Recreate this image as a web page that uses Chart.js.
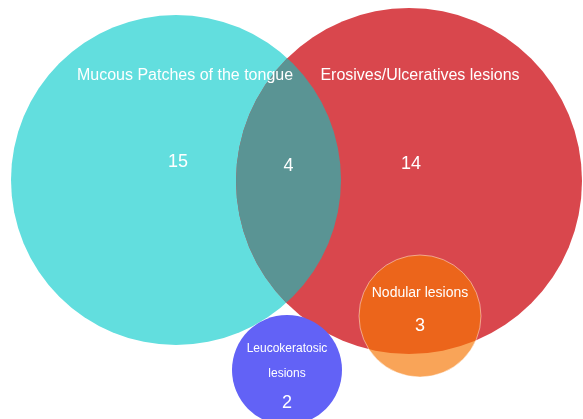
<!DOCTYPE html>
<html>
<head>
<meta charset="utf-8">
<script src="https://cdn.jsdelivr.net/npm/chart.js@4"></script>
<style>
  html, body { margin: 0; padding: 0; background: #fff; }
  #wrap { width: 583px; height: 419px; position: relative; }
</style>
</head>
<body>
<div id="wrap"><canvas id="venn"></canvas></div>
<script>
// sets of the venn diagram
const setNames = [
  'Mucous Patches of the tongue',
  'Erosives/Ulceratives lesions',
  'Nodular lesions',
  'Leucokeratosic lesions'
];
const setOnly = [15, 14, 3, 2];
const bothMucousErosive = 4;

// venn layout (centre and radius of each set, in layout units)
const setX = [176, 409, 420, 287];
const setY = [180, 181, 316, 370];
const setR = [165, 173, 61, 55];

const fills = ['#62dede', '#d9474d', 'rgba(246,117,2,0.66)', '#6262f6'];
const overlapFill = '#5a9494';

const datasets = setNames.map((name, i) => ({
  label: name,
  data: [{ x: setX[i], y: setY[i], r: setR[i] }],
  backgroundColor: fills[i],
  borderColor: i == 2 ? 'rgba(255,255,255,0.45)' : fills[i],
  borderWidth: i == 2 ? 1 : 0,
  hoverRadius: 0,
  order: 4 - i,
  clip: false
}));

function circlePath(ctx, el) {
  ctx.beginPath();
  ctx.arc(el.x, el.y, el.options.radius, 0, Math.PI * 2);
}

// darker lens where the two big sets overlap
const overlapPlugin = {
  id: 'overlap',
  afterDatasetDraw(chart, args) {
    if (args.index !== 1) return;
    const a = chart.getDatasetMeta(0).data[0];
    const b = chart.getDatasetMeta(1).data[0];
    const ctx = chart.ctx;
    ctx.save();
    circlePath(ctx, a);
    ctx.clip();
    circlePath(ctx, b);
    ctx.fillStyle = overlapFill;
    ctx.fill();
    ctx.restore();
  }
};

const font = 'Liberation Sans, Arial, sans-serif';

function txt(ctx, s, x, y, size) {
  ctx.font = size + 'px ' + font;
  ctx.fillText(s, x, y);
}

const labelPlugin = {
  id: 'vennLabels',
  afterDatasetsDraw(chart) {
    const ctx = chart.ctx;
    const el = i => chart.getDatasetMeta(i).data[0];
    ctx.save();
    ctx.fillStyle = '#ffffff';
    ctx.textAlign = 'center';
    ctx.textBaseline = 'middle';

    const m = el(0), e = el(1), n = el(2), l = el(3);
    txt(ctx, setNames[0], m.x + 9, m.y - 104, 16);
    txt(ctx, String(setOnly[0]), m.x + 2, m.y - 18, 18);
    txt(ctx, setNames[1], e.x + 11, e.y - 105, 16);
    txt(ctx, String(setOnly[1]), e.x + 2, e.y - 17, 18);

    const lensX = ((m.x + m.options.radius) + (e.x - e.options.radius)) / 2;
    txt(ctx, String(bothMucousErosive), lensX, m.y - 14, 18);

    txt(ctx, setNames[2], n.x, n.y - 23, 14);
    txt(ctx, String(setOnly[2]), n.x, n.y + 10, 18);

    const words = setNames[3].split(' ');
    txt(ctx, words[0], l.x, l.y - 21, 12);
    txt(ctx, words[1], l.x, l.y + 4, 12);
    txt(ctx, String(setOnly[3]), l.x, l.y + 33, 18);
    ctx.restore();
  }
};

new Chart(document.getElementById('venn'), {
  type: 'bubble',
  data: { datasets: datasets },
  options: {
    responsive: true,
    maintainAspectRatio: false,
    animation: false,
    events: [],
    layout: { autoPadding: false, padding: 0 },
    scales: {
      x: { type: 'linear', min: 0, max: 583, display: false },
      y: { type: 'linear', min: 0, max: 419, reverse: true, display: false }
    },
    plugins: {
      legend: { display: false },
      tooltip: { enabled: false }
    }
  },
  plugins: [overlapPlugin, labelPlugin]
});
</script>
</body>
</html>
